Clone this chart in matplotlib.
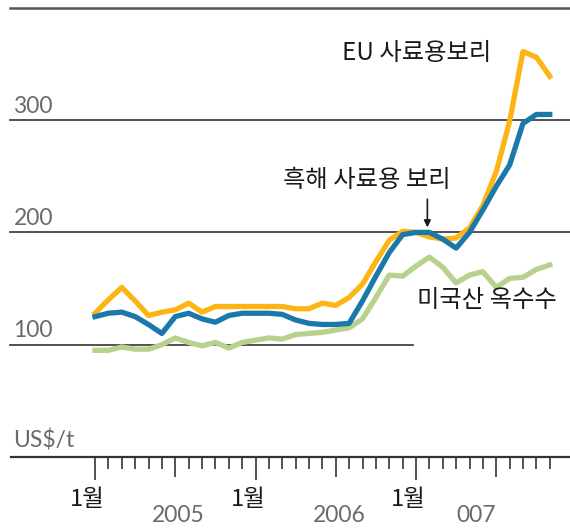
import numpy as np
import matplotlib
matplotlib.use('Agg')
import matplotlib.pyplot as plt

# --- data: monthly prices, US$/t, Jan 2005 .. Nov 2007 ---
eu_barley = [128, 140, 151, 139, 126, 129, 131, 137, 129, 134, 134, 134,
             134, 134, 134, 132, 132, 137, 135, 142, 154, 174, 193, 201,
             200, 196, 194, 195, 204, 224, 254, 299, 361, 356, 339]
black_sea_barley = [125, 128, 129, 125, 118, 110, 125, 128, 123, 120, 126, 128,
                    128, 128, 127, 122, 119, 118, 118, 119, 139, 161, 182, 198,
                    200, 200, 194, 186, 200, 220, 241, 260, 297, 305, 305]
us_corn = [95, 95, 98, 96, 96, 100, 106, 102, 99, 102, 97, 102,
           104, 106, 105, 109, 110, 111, 113, 115, 123, 142, 162, 161,
           170, 178, 169, 155, 162, 165, 151, 159, 160, 167, 171]

jan_ticks = [0, 12, 24]
jan_labels = ['1월', '1월', '1월']
year_labels = ['2005', '2006', '007']
year_pos = [6.2, 18.3, 28.5]
grid_values = [100, 200, 300, 400]

ORANGE = '#FDB515'
BLUE = '#1A78AA'
GREEN = '#B7D28C'
GRAY = '#6a6a6a'
DARK = '#1a1a1a'

fig = plt.figure(figsize=(5.7, 5.28), dpi=100)
ax = fig.add_axes([0, 0, 1, 1])
ax.set_xlim(-7.103, 35.514)
ax.set_ylim(-63.2, 406.9)
ax.axis('off')

months = np.arange(len(eu_barley))

# grid lines
for v in grid_values:
    xmax = 0.725 if v == 100 else 1.0
    lw = 1.8 if v == 400 else 1.2
    col = '#555555' if v == 400 else '#333333'
    ax.axhline(v, xmin=0.018, xmax=xmax, color=col, lw=lw, zorder=1)
    if v < 400:
        ax.text(-6.1, v + 3, str(v), color=GRAY, fontsize=16.5, family='Lato',
                ha='left', va='bottom')

# baseline + ticks
ax.axhline(0, xmin=0.019, xmax=1.0, color='#333333', lw=1.6, zorder=1)
for m in range(len(months)):
    if m % 12 == 0:
        length = 20.5
    elif m % 12 == 6:
        length = 18
    else:
        length = 11
    ax.vlines(m, -length, 0, color='#333333', lw=1.2)

for m, lab in zip(jan_ticks, jan_labels):
    ax.text(m - 0.55, -38, lab, color=DARK, fontsize=17, family='Noto Sans CJK KR',
            weight='medium', ha='center', va='center')
for x, lab in zip(year_pos, year_labels):
    ax.text(x, -52, lab, color=GRAY, fontsize=16.5, family='Lato',
            ha='center', va='center')

ax.text(-6.1, 15, 'US$/t', color=GRAY, fontsize=16.5, family='Lato',
        ha='left', va='center')

# series
ax.plot(months, us_corn, color=GREEN, lw=3.8, zorder=3, solid_joinstyle='round')
ax.plot(months, eu_barley, color=ORANGE, lw=3.8, zorder=4, solid_joinstyle='round')
ax.plot(months, black_sea_barley, color=BLUE, lw=3.8, zorder=5, solid_joinstyle='round')

# annotations
kfont = ['Noto Sans CJK KR', 'DejaVu Sans']
ax.text(18.45, 360, 'EU 사료용보리', fontsize=17.5, family=kfont, color=DARK,
        ha='left', va='center')
ax.text(14.05, 247, '흑해 사료용 보리', fontsize=17.5, family=kfont, color=DARK,
        ha='left', va='center')
ax.annotate('', xy=(24.85, 202), xytext=(24.85, 232),
            arrowprops=dict(arrowstyle='-|>', color=DARK, lw=1.2, mutation_scale=10))
ax.text(24.05, 140, '미국산 옥수수', fontsize=17.5, family=kfont, color=DARK,
        ha='left', va='center', zorder=6)

fig.savefig('out.png', dpi=100)
